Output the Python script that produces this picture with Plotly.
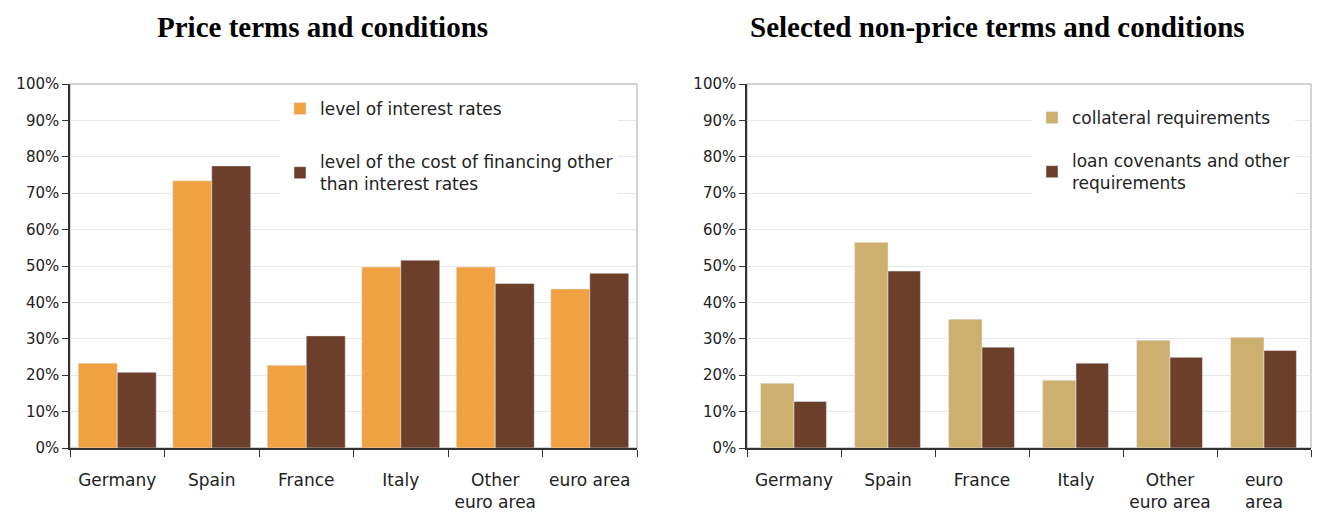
import plotly.graph_objects as go

# categories
paises_izq = ["Germany", "Spain", "France", "Italy", "Other<br>euro area", "euro area"]
paises_der = ["Germany", "Spain", "France", "Italy", "Other<br>euro area", "euro<br>area"]

# price terms (%)
tipo_interes = [23.3, 73.4, 22.7, 49.7, 49.7, 43.7]
coste_otro = [20.8, 77.5, 30.8, 51.6, 45.2, 48.0]

# non-price terms (%)
garantias = [17.8, 56.5, 35.4, 18.6, 29.6, 30.4]
covenants = [12.8, 48.6, 27.7, 23.3, 24.9, 26.8]

NARANJA = "#F0A142"
MARRON = "#6B3F2A"
ARENA = "#CDAF6E"
FUENTE = "DejaVu Sans"
W, H = 1320, 514
OFF = 8  # the page body margin shifts the figure by 8px


def px(x):
    return (x - OFF) / W


def py(y):
    return 1 - (y - OFF) / H


fig = go.Figure()

fig.add_trace(go.Bar(x=paises_izq, y=tipo_interes, name="level of interest rates",
                     marker_color=NARANJA, xaxis="x", yaxis="y", legend="legend",
                     legendgroup="a"))
fig.add_trace(go.Bar(x=paises_izq, y=coste_otro,
                     name="level of the cost of financing other<br>than interest rates",
                     marker_color=MARRON, xaxis="x", yaxis="y", legend="legend",
                     legendgroup="b"))
# right panel bars are a bit narrower
fig.add_trace(go.Bar(x=paises_der, y=garantias, name="collateral requirements",
                     marker_color=ARENA, xaxis="x2", yaxis="y2", legend="legend2",
                     legendgroup="c", width=0.355, offset=-0.355))
fig.add_trace(go.Bar(x=paises_der, y=covenants,
                     name="loan covenants and other<br>requirements",
                     marker_color=MARRON, xaxis="x2", yaxis="y2", legend="legend2",
                     legendgroup="d", width=0.345, offset=0))

eje_x = dict(
    type="category", automargin=False,
    showline=True, linecolor="#333333", linewidth=1.5,
    ticks="outside", tickson="boundaries", ticklen=7, tickcolor="#333333",
    ticklabelstandoff=16,
    tickfont=dict(family=FUENTE, size=17, color="#222222"),
    showgrid=False,
)
eje_y = dict(
    range=[0, 100], dtick=10, ticksuffix="%", automargin=False,
    showline=True, linecolor="#333333", linewidth=1.5,
    ticks="outside", ticklen=6, tickcolor="#333333",
    tickfont=dict(family=FUENTE, size=15, color="#222222"),
    showgrid=True, gridcolor="#E8E8E8", gridwidth=1,
    zeroline=False,
)

leyenda = dict(
    bgcolor="white", borderwidth=0,
    font=dict(family=FUENTE, size=17, color="#222222"),
    xanchor="left", yanchor="top", xref="paper", yref="paper",
    traceorder="grouped", itemwidth=30,
)

fig.update_layout(
    width=W, height=H,
    margin=dict(l=0, r=0, t=0, b=0, autoexpand=False),
    plot_bgcolor="white", paper_bgcolor="white",
    barmode="group", bargap=0.175,
    xaxis=dict(eje_x, domain=[px(70), px(637)], anchor="y"),
    yaxis=dict(eje_y, domain=[py(448), py(84)], anchor="x"),
    xaxis2=dict(eje_x, domain=[px(747), px(1311)], anchor="y2"),
    yaxis2=dict(eje_y, domain=[py(448), py(84)], anchor="x2"),
    legend=dict(leyenda, x=px(280), y=py(91), tracegroupgap=28),
    legend2=dict(leyenda, x=px(1032), y=py(100), tracegroupgap=18),
    showlegend=True,
)

# plot border (top / right in grey)
for xr, yr in [("x domain", "y domain"), ("x2 domain", "y2 domain")]:
    fig.add_shape(type="rect", xref=xr, yref=yr, x0=0, x1=1, y0=0, y1=1,
                  line=dict(color="#A6A6A6", width=1), layer="below")

# titles
for texto, xc in [("Price terms and conditions", 322),
                  ("Selected non-price terms and conditions", 997)]:
    fig.add_annotation(text="<b>" + texto + "</b>", x=px(xc), y=py(27),
                       xref="paper", yref="paper", xanchor="center", yanchor="middle",
                       showarrow=False,
                       font=dict(family="Liberation Serif", size=29, color="black"))

fig.write_html("out.html")
